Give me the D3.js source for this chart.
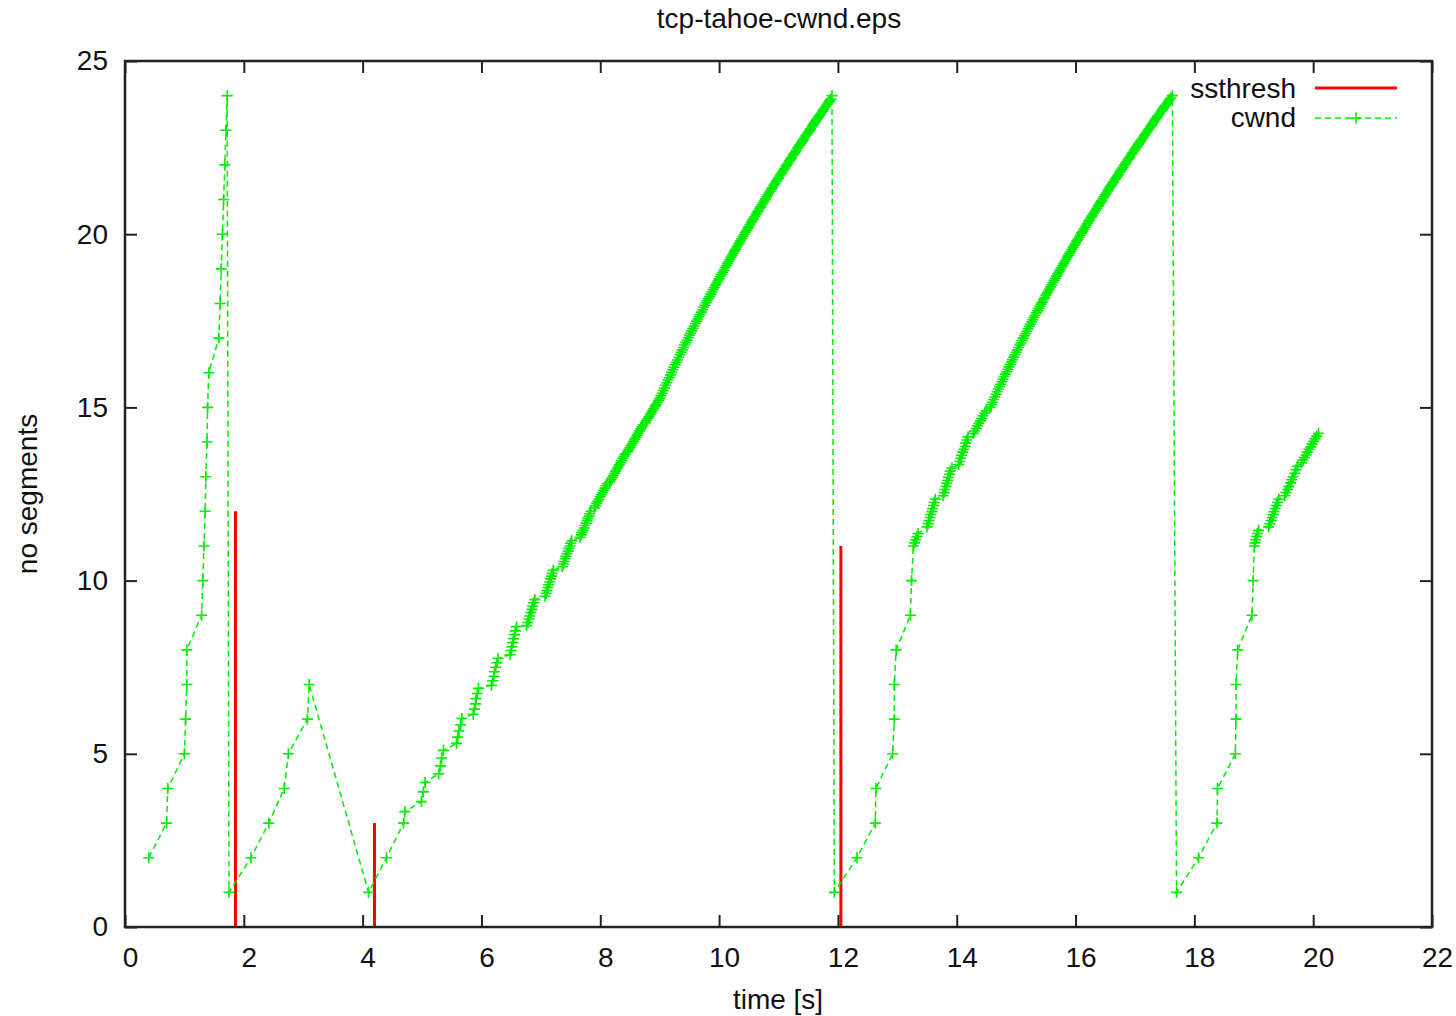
<!DOCTYPE html>
<html><head><meta charset="utf-8">
<script src="https://cdn.jsdelivr.net/npm/d3@7"></script>
<style>body{margin:0;background:#fff}svg{display:block}text{font-family:"Liberation Sans",Arial,sans-serif;fill:#111}</style>
</head><body><svg id="c" width="1456" height="1016"></svg>
<script>
// ---- data ----
const chartTitle = "tcp-tahoe-cwnd.eps";
const xLabel = "time [s]";
const yLabel = "no segments";
const xTicks = [0,2,4,6,8,10,12,14,16,18,20,22];
const yTicks = [0,5,10,15,20,25];
const seriesNames = ["ssthresh","cwnd"];

const ssthreshTime  = [1.86, 4.20, 12.05];
const ssthreshValue = [12, 3, 11];

// cwnd trace [time, segments]
const cwndSlowStart1 = [[0.40,2],[0.70,3],[0.72,4],[1.00,5],[1.02,6],[1.04,7],[1.04,8],[1.29,9],[1.31,10],[1.33,11],[1.35,12],[1.36,13],[1.38,14],[1.39,15],[1.41,16],[1.58,17],[1.60,18],[1.62,19],[1.64,20],[1.66,21],[1.68,22],[1.70,23],[1.72,24]];
const cwndSlowStart2 = [[1.75,1],[2.12,2],[2.42,3],[2.68,4],[2.75,5],[3.07,6],[3.10,7]];
const cwndRamp1Start = [[4.10,1],[4.40,2],[4.69,3],[4.71,3.33],
 [4.99,3.62],[5.02,3.90],[5.05,4.17],
 [5.28,4.42],[5.31,4.65],[5.33,4.88],[5.36,5.10],
 [5.58,5.30],[5.60,5.48],[5.62,5.66],[5.65,5.84],[5.67,6.02],
 [5.86,6.14],[5.88,6.29],[5.90,6.44],[5.91,6.59],[5.93,6.74],[5.95,6.89],
 [6.17,6.98],[6.19,7.11],[6.21,7.24],[6.22,7.37],[6.24,7.50],[6.26,7.63],[6.28,7.76],
 [6.48,7.86],[6.50,7.98],[6.51,8.09],[6.53,8.21],[6.54,8.32],[6.56,8.44],[6.57,8.55],[6.59,8.67],
 [6.76,8.70],[6.78,8.79],[6.80,8.89],[6.81,8.98],[6.83,9.08],[6.85,9.17],[6.86,9.26],[6.88,9.36],[6.90,9.45],
 [7.07,9.55],[7.09,9.63],[7.10,9.71],[7.12,9.80],[7.13,9.88],[7.15,9.96],[7.16,10.05],[7.18,10.13],[7.19,10.21],[7.21,10.30],
 [7.36,10.40],[7.38,10.48],[7.39,10.55],[7.41,10.63],[7.42,10.70],[7.44,10.78],[7.46,10.85],[7.47,10.93],[7.49,11.00],[7.50,11.08],[7.52,11.15],
 [7.66,11.25],[7.68,11.32],[7.69,11.39],[7.71,11.45],[7.73,11.52],[7.74,11.59],[7.76,11.66],[7.78,11.73],[7.79,11.80],[7.81,11.86],[7.82,11.93],[7.84,12.00],
 [7.90,12.10],[7.92,12.16],[7.94,12.23],[7.96,12.29],[7.98,12.35],[8.00,12.42],[8.02,12.48],[8.04,12.54],[8.06,12.61],[8.08,12.67],[8.10,12.74],[8.12,12.80],
 [8.16,12.85],[8.18,12.91],[8.20,12.97],[8.22,13.03],[8.24,13.10],[8.26,13.16],[8.28,13.22],[8.30,13.28],[8.32,13.34],[8.34,13.40],[8.36,13.46],[8.38,13.53],[8.40,13.59],[8.42,13.65],
 [8.46,13.72],[8.48,13.78],[8.50,13.84],[8.52,13.90],[8.54,13.96],[8.56,14.02],[8.58,14.08],[8.60,14.14],[8.62,14.20],[8.64,14.26],[8.66,14.32],[8.68,14.38],[8.70,14.44],[8.72,14.50],
 [8.76,14.56],[8.78,14.62],[8.80,14.68],[8.82,14.73],[8.84,14.79],[8.86,14.85],[8.88,14.91],[8.90,14.97],[8.92,15.03],[8.94,15.08],[8.96,15.14],[8.98,15.20]];
const cwndRamp1Band = [[9.00,15.26],[9.02,15.34],[9.04,15.41],[9.06,15.49],[9.08,15.56],[9.10,15.64],[9.12,15.71],[9.14,15.79],[9.16,15.86],[9.18,15.94],[9.20,16.01],[9.22,16.09],[9.24,16.16],[9.26,16.23],[9.28,16.30],[9.30,16.37],[9.32,16.44],[9.34,16.52],[9.36,16.59],[9.38,16.66],[9.40,16.73],[9.42,16.80],[9.44,16.87],[9.46,16.94],[9.48,17.01],[9.50,17.08],[9.52,17.14],[9.54,17.21],[9.56,17.28],[9.58,17.35],[9.60,17.42],[9.62,17.49],[9.64,17.55],[9.66,17.62],[9.68,17.68],[9.70,17.75],[9.72,17.82],[9.74,17.89],[9.76,17.95],[9.78,18.02],[9.80,18.08],[9.82,18.14],[9.84,18.20],[9.86,18.27],[9.88,18.33],[9.90,18.40],[9.92,18.46],[9.94,18.53],[9.96,18.59],[9.98,18.65],
 [10.00,18.71],[10.02,18.78],[10.04,18.84],[10.06,18.90],[10.08,18.96],[10.10,19.03],[10.12,19.09],[10.14,19.15],[10.16,19.21],[10.18,19.27],[10.20,19.33],[10.22,19.39],[10.24,19.45],[10.26,19.51],[10.28,19.57],[10.30,19.63],[10.32,19.69],[10.34,19.75],[10.36,19.81],[10.38,19.87],[10.40,19.93],[10.42,19.99],[10.44,20.05],[10.46,20.10],[10.48,20.16],[10.50,20.22],[10.52,20.28],[10.54,20.34],[10.56,20.40],[10.58,20.45],[10.60,20.51],[10.62,20.57],[10.64,20.63],[10.66,20.68],[10.68,20.74],[10.70,20.79],[10.72,20.85],[10.74,20.90],[10.76,20.96],[10.78,21.02],[10.80,21.08],[10.82,21.13],[10.84,21.19],[10.86,21.24],[10.88,21.30],[10.90,21.35],[10.92,21.41],[10.94,21.46],[10.96,21.52],[10.98,21.57],
 [11.00,21.62],[11.02,21.68],[11.04,21.73],[11.06,21.78],[11.08,21.84],[11.10,21.89],[11.12,21.95],[11.14,22.00],[11.16,22.05],[11.18,22.11],[11.20,22.16],[11.22,22.21],[11.24,22.27],[11.26,22.32],[11.28,22.37],[11.30,22.42],[11.32,22.48],[11.34,22.53],[11.36,22.58],[11.38,22.63],[11.40,22.68],[11.42,22.73],[11.44,22.79],[11.46,22.84],[11.48,22.89],[11.50,22.94],[11.52,22.99],[11.54,23.04],[11.56,23.10],[11.58,23.15],[11.60,23.20],[11.62,23.25],[11.64,23.30],[11.66,23.35],[11.68,23.40],[11.70,23.45],[11.72,23.50],[11.74,23.55],[11.76,23.60],[11.78,23.65],[11.80,23.70],[11.82,23.75],[11.84,23.80],[11.86,23.85],[11.88,23.90],[11.90,24.00]];
const cwndRamp2Start = [[11.94,1],[12.32,2],[12.63,3],[12.64,4],[12.92,5],[12.95,6],[12.95,7],[12.98,8],[13.22,9],[13.24,10],[13.27,11],[13.29,11.09],[13.31,11.18],[13.33,11.27],[13.35,11.36],
 [13.50,11.55],[13.52,11.64],[13.53,11.73],[13.55,11.82],[13.56,11.91],[13.58,11.99],[13.59,12.08],[13.61,12.17],[13.62,12.26],[13.64,12.35],
 [13.77,12.45],[13.79,12.54],[13.80,12.63],[13.82,12.72],[13.83,12.81],[13.85,12.89],[13.86,12.98],[13.88,13.07],[13.89,13.16],[13.92,13.25],
 [14.03,13.35],[14.05,13.44],[14.07,13.53],[14.08,13.62],[14.10,13.71],[14.12,13.79],[14.14,13.88],[14.15,13.97],[14.17,14.06],[14.19,14.15],
 [14.28,14.25],[14.30,14.32],[14.33,14.39],[14.35,14.47],[14.37,14.54],[14.40,14.61],[14.42,14.68],[14.44,14.76],[14.47,14.83],[14.50,14.90]];
const cwndRamp2Band = [[14.56,15.00],[14.58,15.08],[14.60,15.15],[14.62,15.23],[14.64,15.30],[14.66,15.38],[14.68,15.45],[14.70,15.53],[14.72,15.60],[14.74,15.67],[14.76,15.74],[14.78,15.82],[14.80,15.89],[14.82,15.96],[14.84,16.03],[14.86,16.10],[14.88,16.17],[14.90,16.24],[14.92,16.31],[14.94,16.38],[14.96,16.45],[14.98,16.52],
 [15.00,16.59],[15.02,16.66],[15.04,16.73],[15.06,16.80],[15.08,16.86],[15.10,16.93],[15.12,17.00],[15.14,17.07],[15.16,17.13],[15.18,17.20],[15.20,17.27],[15.22,17.34],[15.24,17.40],[15.26,17.47],[15.28,17.53],[15.30,17.60],[15.32,17.66],[15.34,17.73],[15.36,17.79],[15.38,17.86],[15.40,17.92],[15.42,17.98],[15.44,18.04],[15.46,18.11],[15.48,18.17],[15.50,18.24],[15.52,18.30],[15.54,18.36],[15.56,18.42],[15.58,18.48],[15.60,18.54],[15.62,18.61],[15.64,18.67],[15.66,18.73],[15.68,18.79],[15.70,18.85],[15.72,18.91],[15.74,18.97],[15.76,19.03],[15.78,19.09],[15.80,19.15],[15.82,19.21],[15.84,19.27],[15.86,19.33],[15.88,19.39],[15.90,19.45],[15.92,19.50],[15.94,19.56],[15.96,19.62],[15.98,19.68],
 [16.00,19.74],[16.02,19.80],[16.04,19.85],[16.06,19.91],[16.08,19.97],[16.10,20.03],[16.12,20.08],[16.14,20.14],[16.16,20.20],[16.18,20.26],[16.20,20.31],[16.22,20.37],[16.24,20.42],[16.26,20.48],[16.28,20.53],[16.30,20.59],[16.32,20.64],[16.34,20.70],[16.36,20.75],[16.38,20.81],[16.40,20.86],[16.42,20.92],[16.44,20.97],[16.46,21.03],[16.48,21.08],[16.50,21.14],[16.52,21.19],[16.54,21.25],[16.56,21.30],[16.58,21.36],[16.60,21.41],[16.62,21.46],[16.64,21.51],[16.66,21.57],[16.68,21.62],[16.70,21.67],[16.72,21.72],[16.74,21.78],[16.76,21.83],[16.78,21.88],[16.80,21.93],[16.82,21.99],[16.84,22.04],[16.86,22.09],[16.88,22.14],[16.90,22.19],[16.92,22.24],[16.94,22.30],[16.96,22.35],[16.98,22.40],
 [17.00,22.45],[17.02,22.50],[17.04,22.55],[17.06,22.60],[17.08,22.65],[17.10,22.70],[17.12,22.75],[17.14,22.80],[17.16,22.85],[17.18,22.90],[17.20,22.95],[17.22,23.00],[17.24,23.05],[17.26,23.10],[17.28,23.15],[17.30,23.20],[17.32,23.25],[17.34,23.30],[17.36,23.35],[17.38,23.40],[17.40,23.44],[17.42,23.49],[17.44,23.54],[17.46,23.59],[17.48,23.64],[17.50,23.69],[17.52,23.73],[17.54,23.78],[17.56,23.83],[17.58,23.88],[17.60,23.93],[17.63,24.00]];
const cwndRamp3 = [[17.70,1],[18.07,2],[18.38,3],[18.39,4],[18.69,5],[18.70,6],[18.70,7],[18.73,8],[18.97,9],[18.99,10],[19.01,11],[19.02,11.09],[19.03,11.18],[19.05,11.27],[19.06,11.36],[19.08,11.45],
 [19.25,11.55],[19.27,11.64],[19.29,11.73],[19.31,11.82],[19.33,11.91],[19.34,11.99],[19.36,12.08],[19.38,12.17],[19.40,12.26],[19.42,12.35],
 [19.52,12.45],[19.54,12.54],[19.57,12.63],[19.59,12.72],[19.62,12.82],[19.64,12.91],[19.66,13.00],[19.69,13.10],[19.71,13.20],[19.74,13.30],
 [19.80,13.40],[19.83,13.48],[19.85,13.55],[19.88,13.63],[19.90,13.71],[19.93,13.79],[19.96,13.86],[19.98,13.94],[20.01,14.02],[20.03,14.10],[20.06,14.17],[20.09,14.25]];

// ---- drawing ----
const mLeft = 125, mRight = 1432, mTop = 61, mBottom = 927;
const x = d3.scaleLinear().domain([0, 22]).range([mLeft, mRight]);
const y = d3.scaleLinear().domain([0, 25]).range([mBottom, mTop]);
const svg = d3.select("#c");
const green = "#00ee00", red = "#ff0000", axisColor = "#222";
const fs = 28;

const cwnd = [].concat(cwndSlowStart1, cwndSlowStart2, cwndRamp1Start, cwndRamp1Band, cwndRamp2Start, cwndRamp2Band, cwndRamp3);

// ssthresh impulses
svg.append("g").selectAll("line").data(ssthreshTime.map((t,i)=>[t, ssthreshValue[i]])).join("line")
  .attr("x1", d=>x(d[0])).attr("x2", d=>x(d[0]))
  .attr("y1", y(0)).attr("y2", d=>y(d[1]))
  .attr("stroke", red).attr("stroke-width", 3);

// cwnd line
const line = d3.line().x(d=>x(d[0])).y(d=>y(d[1]));
svg.append("path").datum(cwnd).attr("d", line)
  .attr("fill","none").attr("stroke", green).attr("stroke-width", 1.5)
  .attr("stroke-dasharray","6,4");

// cross markers
const cr = 5.5;
svg.append("path")
  .attr("d", cwnd.map(d=>{const px=x(d[0]), py=y(d[1]); return `M${px-cr},${py}H${px+cr}M${px},${py-cr}V${py+cr}`;}).join(""))
  .attr("fill","none").attr("stroke", green).attr("stroke-width", 1.6);

// frame
svg.append("rect").attr("x", mLeft).attr("y", mTop).attr("width", mRight-mLeft).attr("height", mBottom-mTop)
  .attr("fill","none").attr("stroke", axisColor).attr("stroke-width", 2.5);

// axes via d3 axis (inner ticks, mirrored)
const tl = 12;
const xb = svg.append("g").attr("transform", `translate(0,${mBottom})`)
  .call(d3.axisBottom(x).tickValues(xTicks).tickSize(-tl).tickPadding(tl+8).tickFormat(d3.format("d")));
const xt = svg.append("g").attr("transform", `translate(0,${mTop})`)
  .call(d3.axisTop(x).tickValues(xTicks).tickSize(-tl).tickFormat(""));
const yl = svg.append("g").attr("transform", `translate(${mLeft},0)`)
  .call(d3.axisLeft(y).tickValues(yTicks).tickSize(-tl).tickPadding(15).tickFormat(d3.format("d")));
const yr = svg.append("g").attr("transform", `translate(${mRight},0)`)
  .call(d3.axisRight(y).tickValues(yTicks).tickSize(-tl).tickFormat(""));
[xb,xt,yl,yr].forEach(g=>{
  g.select(".domain").remove();
  g.selectAll(".tick line").attr("stroke", axisColor).attr("stroke-width", 2);
  g.selectAll(".tick text").attr("font-size", fs).attr("font-family",'"Liberation Sans",Arial,sans-serif').attr("fill","#111");
});
xb.selectAll(".tick text").attr("dx", 5);
yl.selectAll(".tick text").attr("dx", -2);

// titles
svg.append("text").attr("x", 779).attr("y", 28).attr("text-anchor","middle").attr("font-size", fs).text(chartTitle);
svg.append("text").attr("x", 778).attr("y", 1009).attr("text-anchor","middle").attr("font-size", fs).text(xLabel);
svg.append("text").attr("transform", "translate(37,494) rotate(-90)").attr("text-anchor","middle").attr("font-size", fs).text(yLabel);

// legend
const lg = svg.append("g");
lg.append("text").attr("x", 1296).attr("y", 98).attr("text-anchor","end").attr("font-size", fs).text(seriesNames[0]);
lg.append("line").attr("x1",1315).attr("x2",1397).attr("y1",88).attr("y2",88).attr("stroke",red).attr("stroke-width",3);
lg.append("text").attr("x", 1296).attr("y", 127).attr("text-anchor","end").attr("font-size", fs).text(seriesNames[1]);
lg.append("line").attr("x1",1315).attr("x2",1397).attr("y1",118).attr("y2",118).attr("stroke",green).attr("stroke-width",1.5).attr("stroke-dasharray","6,4");
lg.append("path").attr("d",`M${1356-cr},118H${1356+cr}M1356,${118-cr}V${118+cr}`).attr("stroke",green).attr("stroke-width",1.6);
</script></body></html>
